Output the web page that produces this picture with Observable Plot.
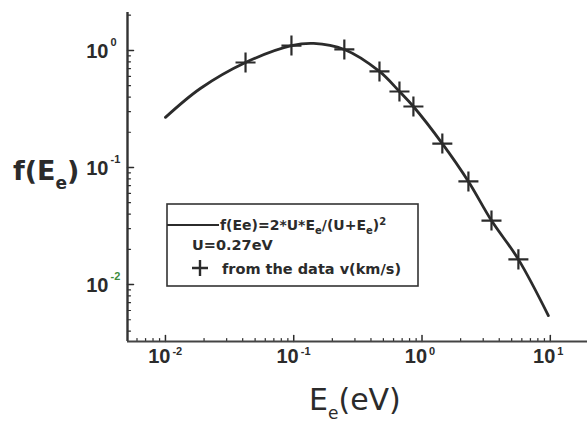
<!DOCTYPE html>
<html>
<head>
<meta charset="utf-8">
<script src="https://cdn.jsdelivr.net/npm/d3@7"></script>
<script src="https://cdn.jsdelivr.net/npm/@observablehq/plot@0.6"></script>
<style>
  html, body { margin: 0; padding: 0; background: #fff; }
  #chart { width: 587px; height: 427px; }
</style>
</head>
<body>
<div id="chart"></div>
<script>
// Model curve f(Ee) = 2*U*Ee/(U+Ee)^2, U = 0.27 eV
const lineE = [0.0100, 0.0187, 0.0421, 0.0960, 0.143, 0.248, 0.466, 0.667, 0.857, 1.44, 2.30, 3.48, 5.64, 9.66];
const lineF = [0.268, 0.473, 0.789, 1.10, 1.15, 1.02, 0.662, 0.446, 0.332, 0.160, 0.0760, 0.0352, 0.0164, 0.00543];
// Points "from the data v(km/s)"
const dataE = [0.0421, 0.0960, 0.248, 0.466, 0.667, 0.857, 1.44, 2.30, 3.48, 5.64];
const dataF = [0.789, 1.10, 1.02, 0.662, 0.446, 0.332, 0.160, 0.0760, 0.0352, 0.0164];
// Axes
const xDomain = [0.00506, 19.5];
const yDomain = [0.00326, 2.11];
const xTickValues = [0.01, 0.1, 1, 10];
const xTickExps = ["-2", "-1", "0", "1"];
const yTickValues = [0.01, 0.1, 1];
const yTickExps = ["-2", "-1", "0"];
const xMinor = [0.006,0.007,0.008,0.009,0.02,0.03,0.04,0.05,0.06,0.07,0.08,0.09,0.2,0.3,0.4,0.5,0.6,0.7,0.8,0.9,2,3,4,5,6,7,8,9];
const yMinor = [0.004,0.005,0.006,0.007,0.008,0.009,0.02,0.03,0.04,0.05,0.06,0.07,0.08,0.09,0.2,0.3,0.4,0.5,0.6,0.7,0.8,0.9,2];
// Texts
const yLabel = ["f(E", "e", ")"];
const xLabel = ["E", "e", "(eV)"];
const legendLine = ["f(Ee)=2*U*E", "e", "/(U+E", "e", ")", "2"];
const legendU = "U=0.27eV";
const legendData = "from the data v(km/s)";

const lineRows = lineE.map((e, i) => ({e, f: lineF[i]}));
const dataRows = dataE.map((e, i) => ({e, f: dataF[i]}));
const xTicks = xTickValues.map((v, i) => ({v, exp: xTickExps[i]}));
const yTicks = yTickValues.map((v, i) => ({v, exp: yTickExps[i]}));

const ink = "#2b2b2b";
const tickFont = "Liberation Sans, Arial, sans-serif";
const tickRight = {draw(context, l) { context.moveTo(0, 0); context.lineTo(l, 0); }};
const tickUp = {draw(context, l) { context.moveTo(0, 0); context.lineTo(0, -l); }};

const svg = Plot.plot({
  width: 587,
  height: 427,
  marginLeft: 127,
  marginRight: 0,
  marginTop: 12,
  marginBottom: 86,
  style: {background: "#fff", color: ink},
  x: {type: "log", domain: xDomain, axis: null},
  y: {type: "log", domain: yDomain, axis: null},
  marks: [
    // inward ticks
    Plot.vector(yMinor, {y: (d) => d, frameAnchor: "left", length: 3, shape: tickRight, anchor: "start", stroke: ink, strokeWidth: 1.2}),
    Plot.vector(yTickValues, {y: (d) => d, frameAnchor: "left", length: 6, shape: tickRight, anchor: "start", stroke: ink, strokeWidth: 1.5}),
    Plot.vector(xMinor, {x: (d) => d, frameAnchor: "bottom", length: 3, shape: tickUp, anchor: "start", stroke: ink, strokeWidth: 1.2}),
    Plot.vector(xTickValues, {x: (d) => d, frameAnchor: "bottom", length: 6, shape: tickUp, anchor: "start", stroke: ink, strokeWidth: 1.5}),
    // axis lines
    Plot.ruleX([xDomain[0]], {stroke: "#333", strokeWidth: 2.4}),
    Plot.ruleY([yDomain[0]], {stroke: "#444", strokeWidth: 2}),
    // x tick labels
    Plot.text(xTicks, {x: "v", text: () => "10", frameAnchor: "bottom", dy: 21, dx: 5, textAnchor: "end",
      fontSize: 20, fontWeight: "bold", fontFamily: tickFont, fill: ink}),
    Plot.text(xTicks, {x: "v", text: "exp", frameAnchor: "bottom", dy: 13, dx: 7, textAnchor: "start",
      fontSize: 11, fontWeight: "bold", fontFamily: tickFont, fill: ink}),
    // y tick labels
    Plot.text(yTicks, {y: "v", text: () => "10", frameAnchor: "left", dx: -19, dy: 1, textAnchor: "end",
      fontSize: 20, fontWeight: "bold", fontFamily: tickFont, fill: ink}),
    Plot.text(yTicks, {y: "v", text: "exp", frameAnchor: "left", dx: -17, dy: -8, textAnchor: "start",
      fontSize: 11, fontWeight: "bold", fontFamily: tickFont, fill: (d) => d.exp === "-2" ? "#3d8b3d" : ink}),
    // curve
    Plot.line(lineRows, {x: "e", y: "f", stroke: ink, strokeWidth: 2.8, curve: "catmull-rom"}),
    // data points
    Plot.dot(dataRows, {x: "e", y: "f", symbol: "plus", r: 6.5, stroke: ink, strokeWidth: 2.2})
  ]
});

document.getElementById("chart").appendChild(svg);

const s = d3.select(svg);
// y axis label
const yl = s.append("text").attr("x", 13).attr("y", 180).attr("text-anchor", "start")
  .attr("font-family", "DejaVu Sans, sans-serif").attr("font-weight", "bold").attr("font-size", 27).attr("fill", ink);
yl.append("tspan").text(yLabel[0]);
yl.append("tspan").attr("dy", 9).attr("font-size", 17).text(yLabel[1]);
yl.append("tspan").attr("dy", -9).text(yLabel[2]);
// x axis label
const xl = s.append("text").attr("x", 309).attr("y", 410).attr("text-anchor", "start")
  .attr("font-family", "DejaVu Sans, sans-serif").attr("font-size", 30).attr("fill", ink);
xl.append("tspan").text(xLabel[0]);
xl.append("tspan").attr("dy", 9).attr("font-size", 17).text(xLabel[1]);
xl.append("tspan").attr("dy", -9).text(xLabel[2]);

// legend
const lg = s.append("g").attr("text-anchor", "start").attr("font-family", "DejaVu Sans, sans-serif")
  .attr("font-weight", "bold").attr("font-size", 14.5).attr("fill", ink);
lg.append("rect").attr("x", 167).attr("y", 204).attr("width", 251).attr("height", 82)
  .attr("fill", "#fff").attr("stroke", "#333").attr("stroke-width", 1.6);
lg.append("line").attr("x1", 167).attr("x2", 219).attr("y1", 225).attr("y2", 225)
  .attr("stroke", ink).attr("stroke-width", 2);
const lt = lg.append("text").attr("x", 220).attr("y", 230).attr("font-size", 14);
lt.append("tspan").text(legendLine[0]);
lt.append("tspan").attr("dy", 4).attr("font-size", 10).text(legendLine[1]);
lt.append("tspan").attr("dy", -4).text(legendLine[2]);
lt.append("tspan").attr("dy", 4).attr("font-size", 10).text(legendLine[3]);
lt.append("tspan").attr("dy", -4).text(legendLine[4]);
lt.append("tspan").attr("dy", -5).attr("font-size", 10).text(legendLine[5]);
lg.append("text").attr("x", 192).attr("y", 250).text(legendU);
lg.append("path").attr("d", "M192,268h16M200,260v16").attr("stroke", ink).attr("stroke-width", 2.4);
lg.append("text").attr("x", 222).attr("y", 274).text(legendData);
</script>
</body>
</html>
